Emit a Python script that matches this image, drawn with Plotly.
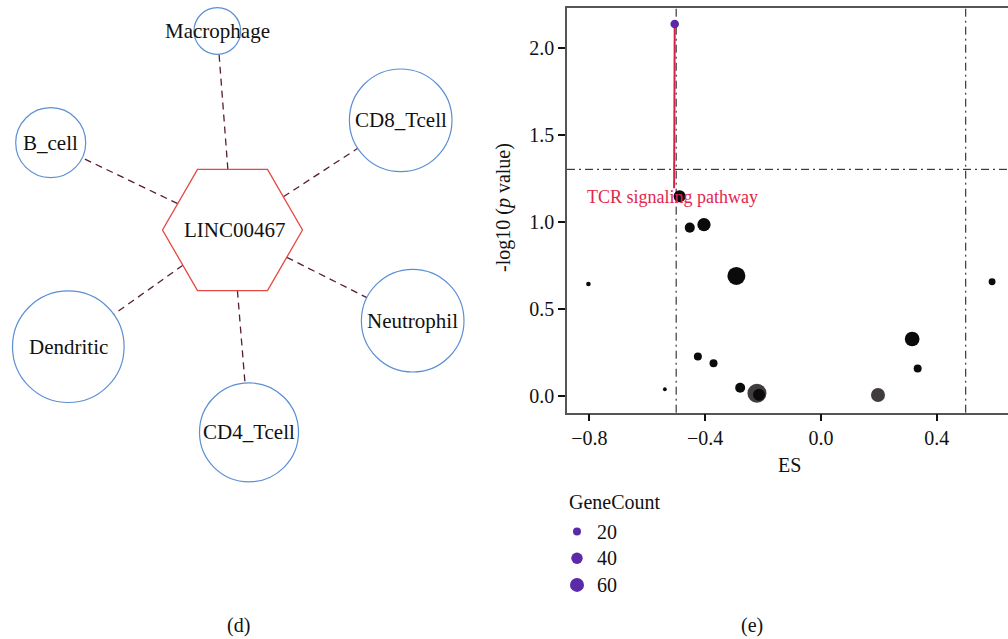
import math
import plotly.graph_objects as go

# ---------------- network: LINC00467 vs. immune cell types ----------------
hub_name = "LINC00467"
cell_types = ["Macrophage", "CD8_Tcell", "B_cell", "Neutrophil", "CD4_Tcell", "Dendritic"]

# node layout (drawing units = pixels of the left panel)
hub_pos = (232.5, 230.0)
hub_radius = 70.0
node_x = [217.3, 400.7, 50.7, 412.7, 249.0, 68.3]
node_y = [31.0, 120.3, 142.7, 320.7, 432.3, 346.7]
node_r = [23.3, 51.3, 35.0, 51.3, 49.5, 55.8]

# ---------------- pathway enrichment scatter ----------------
pathway_es = [-0.505, -0.488, -0.453, -0.404, -0.292, -0.803, 0.591, 0.315,
              0.334, -0.425, -0.371, -0.539, -0.279, -0.221, -0.214, 0.197]
pathway_logp = [2.136, 1.146, 0.966, 0.983, 0.688, 0.642, 0.655, 0.326,
                0.157, 0.226, 0.186, 0.037, 0.046, 0.014, 0.006, 0.004]
pathway_genecount = [23, 45, 31, 54, 99, 7, 15, 66,
                     20, 20, 20, 5, 31, 110, 44, 60]
pathway_group = ["sig", "ns", "ns", "ns", "ns", "ns", "ns", "ns",
                 "ns", "ns", "ns", "ns", "ns", "other", "ns", "other"]
labelled_index = 0
labelled_name = "TCR signaling pathway"
label_es, label_logp = -0.511, 1.142

es_ticks = [-0.8, -0.4, 0.0, 0.4]
logp_ticks = [0.0, 0.5, 1.0, 1.5, 2.0]
p_cutoff = 0.05
es_cutoff = 0.5
legend_counts = [20, 40, 60]

group_colors = {"sig": "#5b2aa8", "ns": "#0b0b0b", "other": "#423d3d"}
FONT = "Liberation Serif"
W, H = 1008, 639


def count_to_diameter(n):
    return math.sqrt(max(3.3 * n - 2, 4))


def paper_text(xpix, ypix, text, size=20, xanchor="center", **kw):
    return dict(xref="paper", yref="paper", x=xpix / W, y=1 - ypix / H,
                xanchor=xanchor, yanchor="middle", text=text, showarrow=False,
                font=dict(family=FONT, size=size, color="#111"), **kw)


fig = go.Figure()
shapes = []
annotations = []

# ---- network panel ----
cx, cy = hub_pos
apothem = hub_radius * math.cos(math.radians(30))
for name, x, y, r in zip(cell_types, node_x, node_y, node_r):
    ang = math.atan2(y - cy, x - cx)
    # distance from hub centre to the hexagon edge along this direction
    best = max(math.cos(ang - math.radians(30 + 60 * k)) for k in range(6))
    d0 = apothem / best
    dist = math.hypot(x - cx, y - cy)
    d1 = dist - r
    ux, uy = math.cos(ang), math.sin(ang)
    shapes.append(dict(type="line", xref="x2", yref="y2",
                       x0=cx + ux * d0, y0=cy + uy * d0,
                       x1=cx + ux * d1, y1=cy + uy * d1,
                       line=dict(color="#5a1b35", width=1.3, dash="7px,5px")))
    shapes.append(dict(type="circle", xref="x2", yref="y2",
                       x0=x - r, x1=x + r, y0=y - r, y1=y + r,
                       line=dict(color="#5b8fd3", width=1.2)))
    annotations.append(dict(xref="x2", yref="y2", x=x, y=y, text=name,
                            xanchor="center", yanchor="middle", showarrow=False,
                            font=dict(family=FONT, size=21, color="#111")))

hex_pts = [(cx + hub_radius * math.cos(math.radians(60 * k)),
            cy + hub_radius * math.sin(math.radians(60 * k))) for k in range(6)]
path = "M " + " L ".join(f"{px:.2f},{py:.2f}" for px, py in hex_pts) + " Z"
shapes.append(dict(type="path", xref="x2", yref="y2", path=path,
                   line=dict(color="#e5483f", width=1.3)))
annotations.append(dict(xref="x2", yref="y2", x=cx + 2, y=cy, text=hub_name,
                        xanchor="center", yanchor="middle", showarrow=False,
                        font=dict(family=FONT, size=21, color="#111")))

# invisible anchor trace for the network axes
fig.add_trace(go.Scatter(x=[0, 480], y=[0, 639], xaxis="x2", yaxis="y2",
                         mode="markers", marker=dict(opacity=0), hoverinfo="skip",
                         showlegend=False))

# ---- enrichment scatter ----
p_line = -math.log10(p_cutoff)
for x0 in (-es_cutoff, es_cutoff):
    shapes.append(dict(type="line", xref="x", yref="y domain", x0=x0, x1=x0, y0=0, y1=1,
                       line=dict(color="#111", width=1, dash="8px,4px,2px,4px"), layer="below"))
shapes.append(dict(type="line", xref="x domain", yref="y", x0=0, x1=1, y0=p_line, y1=p_line,
                   line=dict(color="#111", width=1, dash="8px,4px,2px,4px"), layer="below"))

# repel segment from the labelled point to its text
fig.add_trace(go.Scatter(x=[pathway_es[labelled_index], label_es + 0.004],
                         y=[pathway_logp[labelled_index], label_logp + 0.05],
                         mode="lines", line=dict(color="#dc1e45", width=2),
                         hoverinfo="skip", showlegend=False))

order = sorted(range(len(pathway_es)), key=lambda i: -pathway_genecount[i])
fig.add_trace(go.Scatter(
    x=[pathway_es[i] for i in order],
    y=[pathway_logp[i] for i in order],
    mode="markers",
    marker=dict(size=[count_to_diameter(pathway_genecount[i]) for i in order],
                color=[group_colors[pathway_group[i]] for i in order],
                line=dict(width=0), opacity=1),
    showlegend=False))

annotations.append(dict(xref="x", yref="y", x=label_es, y=label_logp, text=labelled_name,
                        xanchor="center", yanchor="middle", showarrow=False,
                        font=dict(family=FONT, size=18, color="#e3264d")))

# axis titles
annotations.append(paper_text(789, 465, "ES"))
annotations.append(paper_text(503, 208, "-log10 (<i>p</i> value)", textangle=-90))

# size legend
annotations.append(paper_text(567, 502, "GeneCount", xanchor="left"))
for k, n in enumerate(legend_counts):
    ypix = 531.5 + k * 26.7
    d = count_to_diameter(n)
    shapes.append(dict(type="circle", xref="paper", yref="paper",
                       xsizemode="pixel", ysizemode="pixel",
                       xanchor=577 / W, yanchor=1 - ypix / H,
                       x0=-d / 2, x1=d / 2, y0=-d / 2, y1=d / 2,
                       fillcolor=group_colors["sig"], line=dict(width=0)))
    annotations.append(paper_text(595, ypix, str(n), xanchor="left"))

# panel captions
annotations.append(paper_text(238, 625, "(d)"))
annotations.append(paper_text(752, 625, "(e)"))

axis_common = dict(showgrid=False, zeroline=False, ticks="outside", ticklen=7,
                   tickwidth=1.5, tickcolor="#111", showline=True, linecolor="#555",
                   linewidth=1.5, tickfont=dict(family=FONT, size=20, color="#111"))

fig.update_layout(
    width=W, height=H,
    margin=dict(l=0, r=0, t=0, b=0),
    paper_bgcolor="white", plot_bgcolor="white",
    showlegend=False,
    xaxis=dict(domain=[567 / W, 1.0], range=[-0.877, 0.646], tickvals=es_ticks,
               tickformat=".1f", mirror=True, anchor="y", **axis_common),
    yaxis=dict(domain=[1 - 412.7 / H, 1 - 7.7 / H], range=[-0.0977, 2.230],
               tickvals=logp_ticks, tickformat=".1f", anchor="x", **axis_common),
    xaxis2=dict(domain=[0, 480 / W], range=[0, 480], visible=False, anchor="y2"),
    yaxis2=dict(domain=[0, 1], range=[639, 0], visible=False, anchor="x2"),
    shapes=shapes,
    annotations=annotations,
)

fig.write_html("out.html")
